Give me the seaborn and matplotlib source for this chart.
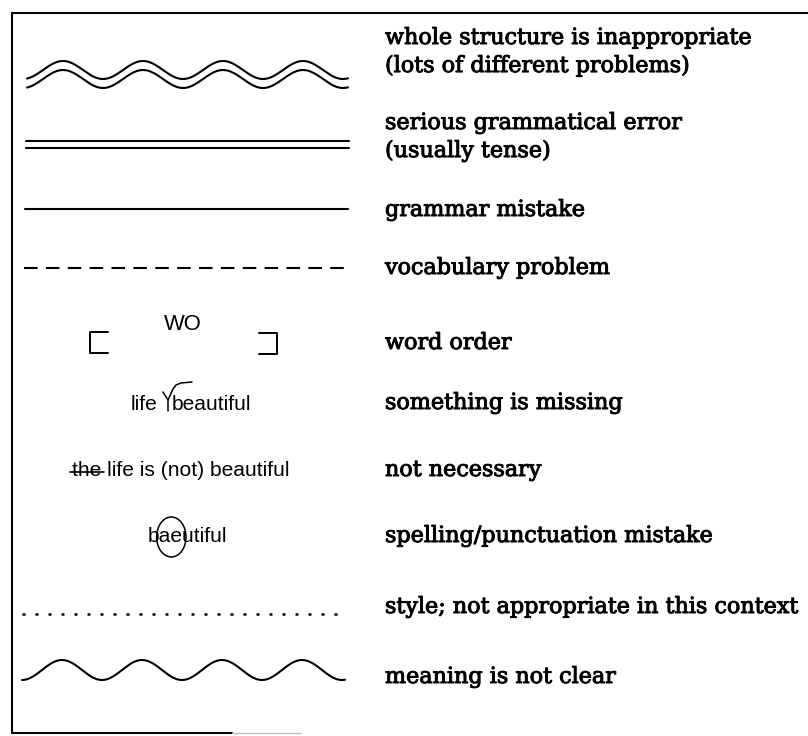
import matplotlib
matplotlib.use("Agg")
import matplotlib.pyplot as plt
import matplotlib.patheffects as pe
import seaborn as sns
import numpy as np
import pandas as pd
from matplotlib import font_manager as fm
from matplotlib.patches import Ellipse

# ---------------- content ----------------
descriptions = [
    ["whole structure is inappropriate", "(lots of different problems)"],
    ["serious grammatical error", "(usually tense)"],
    ["grammar mistake"],
    ["vocabulary problem"],
    ["word order"],
    ["something is missing"],
    ["not necessary"],
    ["spelling/punctuation mistake"],
    ["style; not appropriate in this context"],
    ["meaning is not clear"],
]
wo_label = "WO"
missing_left, missing_right = "life", "beautiful"
struck_word = "the"
not_necessary_rest = " life is (not) beautiful"
misspelled = "baeutiful"
circled_letters = "ae"

# ---------------- layout ----------------
W, H = 808, 736
row_y = [38, 123, 210, 268, 343, 403, 470, 536, 607, 677]
second_line_gap = 28
text_x = 385

sns.set_theme(style="white")
fig = plt.figure(figsize=(W / 100, H / 100), dpi=100)
ax = fig.add_axes([0, 0, 1, 1])
ax.set_xlim(0, W)
ax.set_ylim(H, 0)
ax.axis("off")

names = {f.name for f in fm.fontManager.ttflist}
sans = "Liberation Sans Narrow" if "Liberation Sans Narrow" in names else "Liberation Sans"
serif = "DejaVu Serif"

fig.canvas.draw()
renderer = fig.canvas.get_renderer()


def text_width(s, **kw):
    t = ax.text(0, 0, s, **kw)
    w = t.get_window_extent(renderer).width
    t.remove()
    return w


# fit font sizes to the reference widths
serif_size = 10 * 368 / text_width(descriptions[0][0], family=serif, fontsize=10)
sans_size = 10 * 218 / text_width(struck_word + not_necessary_rest, family=sans, fontsize=10)
heavy = [pe.withStroke(linewidth=0.7, foreground="black")]


def line(xs, ys, lw=1.4, ls="-", color="black"):
    df = pd.DataFrame({"x": xs, "y": ys})
    sns.lineplot(data=df, x="x", y="y", ax=ax, sort=False, estimator=None,
                 color=color, linewidth=lw, linestyle=ls, legend=False)


# ---------------- frame ----------------
line([12, 12], [13, 733], lw=1.5)
line([12, 808], [13, 13], lw=1.5)
line([12, 232], [733, 733], lw=1.5)
line([232, 300], [733, 733], lw=1.0, color="#bbbbbb")

# ---------------- descriptions ----------------
for lines_, y in zip(descriptions, row_y):
    for k, s in enumerate(lines_):
        ax.text(text_x, y + k * second_line_gap, s, family=serif,
                fontsize=serif_size, ha="left", va="center", color="black",
                path_effects=heavy)

sym_kw = dict(family=sans, fontsize=sans_size, va="center", color="black")

# ---------------- symbols ----------------
# 1 double wavy line
xw = np.linspace(27, 348, 400)
phase = 2 * np.pi * (xw - 63) / 80
line(xw, 70 - 9 * np.cos(phase), lw=1.5)
line(xw, 79 - 9 * np.cos(phase), lw=1.5)

# 2 double straight line
line([26, 349], [141, 141], lw=1.5)
line([26, 349], [148, 148], lw=1.5)

# 3 single line
line([25, 348], [209, 209], lw=1.5)

# 4 dashed line
line([24, 348], [268, 268], lw=1.5, ls=(0, (6.5, 4)))

# 5 word order brackets
line([108, 90, 90, 108], [332, 332, 353, 353], lw=1.4)
line([259, 277, 277, 259], [333, 333, 354, 354], lw=1.4)
ax.text(183, 324, wo_label, ha="center", **{**sym_kw, "fontsize": sans_size * 1.05})

# 6 something missing (caret)
ax.text(157, 404, missing_left, ha="right", **sym_kw)
ax.text(172, 404, missing_right, ha="left", **sym_kw)
line([168, 168, 163], [411, 400, 392], lw=1.1)
line([168, 173, 176, 181, 192], [400, 389, 385, 383, 382], lw=1.1)

# 7 not necessary (strike-through)
ax.text(72, 470, struck_word + not_necessary_rest, ha="left", **sym_kw)
w_the = text_width(struck_word, family=sans, fontsize=sans_size)
line([70, 72 + w_the + 3], [472, 472], lw=1.2)

# 8 spelling (circled letters)
x_b = 148
ax.text(x_b, 537, misspelled, ha="left", **sym_kw)
i = misspelled.index(circled_letters)
w_pre = text_width(misspelled[:i], family=sans, fontsize=sans_size)
w_post = text_width(misspelled[:i + len(circled_letters)], family=sans, fontsize=sans_size)
ax.add_patch(Ellipse((x_b + (w_pre + w_post) / 2, 537), w_post - w_pre + 6, 40,
                     fill=False, edgecolor="black", linewidth=1.1))

# 9 dotted line
line([22, 345], [614, 614], lw=1.8, ls=(0, (1.2, 4)))

# 10 single wavy line
xm = np.linspace(22, 345, 400)
line(xm, 670 - 10 * np.cos(2 * np.pi * (xm - 62) / 80), lw=1.5)

ax.set_xlim(0, W)
ax.set_ylim(H, 0)
ax.axis("off")
fig.savefig("out.png", dpi=100)
